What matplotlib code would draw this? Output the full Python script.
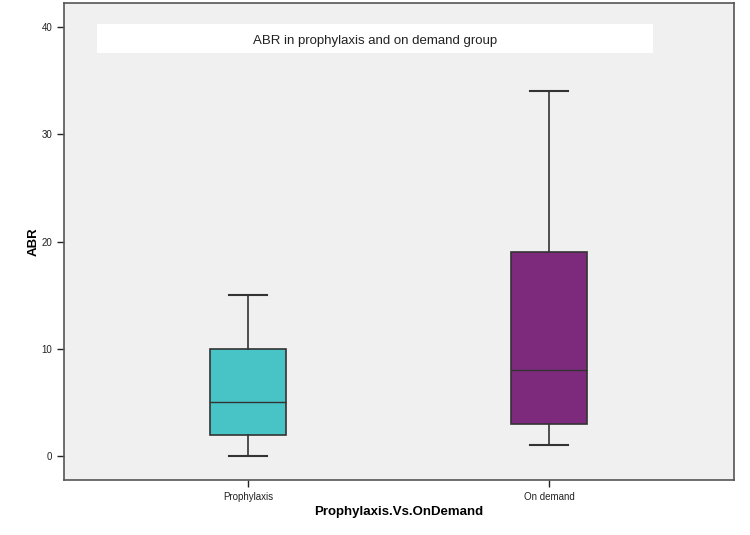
import matplotlib
matplotlib.use("Agg")
import matplotlib.pyplot as plt
from matplotlib.patches import Rectangle

plt.rcParams['font.family'] = ['Liberation Sans', 'DejaVu Sans']

categories = ["Prophylaxis", "On demand"]
whislo = [0, 1]
q1 = [2, 3]
med = [5, 8]
q3 = [10, 19]
whishi = [15, 34]
colors = ["#48C4C7", "#7D2A7C"]
yticks = [0, 10, 20, 30, 40]

fig = plt.figure(figsize=(7.5, 5.35), dpi=100)
ax = fig.add_axes([64/750, 1-480/535, (734-64)/750, (480-3)/535])
ax.set_facecolor("#F0F0F0")

stats = [dict(label=c, whislo=a, q1=b, med=m, q3=d, whishi=e, fliers=[])
         for c, a, b, m, d, e in zip(categories, whislo, q1, med, q3, whishi)]
edge = "#333333"
bp = ax.bxp(stats, positions=range(len(categories)), widths=0.25, patch_artist=True,
            showfliers=False,
            boxprops=dict(edgecolor=edge, linewidth=1.2),
            medianprops=dict(color=edge, linewidth=1.0),
            whiskerprops=dict(color=edge, linewidth=1.2),
            capprops=dict(color=edge, linewidth=1.5),
            capwidths=0.125)
for p, c in zip(bp['boxes'], colors):
    p.set_facecolor(c)

ax.set_xlim(-0.611, 1.615)
ax.set_ylim(-2.24, 42.24)
ax.set_yticks(yticks)
ax.set_xticks(range(len(categories)))
ax.set_xticklabels(categories, fontsize=7, color="#222222")
ax.tick_params(axis='y', labelsize=7, length=5, width=1, colors="#222222", direction='out')
ax.tick_params(axis='x', length=5, width=1, colors="#222222", direction='out')
for s in ax.spines.values():
    s.set_color("#555555")
    s.set_linewidth(1.2)

# title box
ax.add_patch(Rectangle((97/750, 1-53/535), (653-97)/750, 29/535, transform=fig.transFigure,
                       facecolor="white", edgecolor="none", zorder=0.5))
fig.text(375/750, 1-41/535, "ABR in prophylaxis and on demand group", ha='center', va='center',
         fontsize=9.5, color="#222222")

ax.set_ylabel("ABR", fontsize=9.5, fontweight='bold', labelpad=1)
ax.set_xlabel("Prophylaxis.Vs.OnDemand", fontsize=9.5, fontweight='bold', labelpad=3)

fig.savefig("out.png", dpi=100)
